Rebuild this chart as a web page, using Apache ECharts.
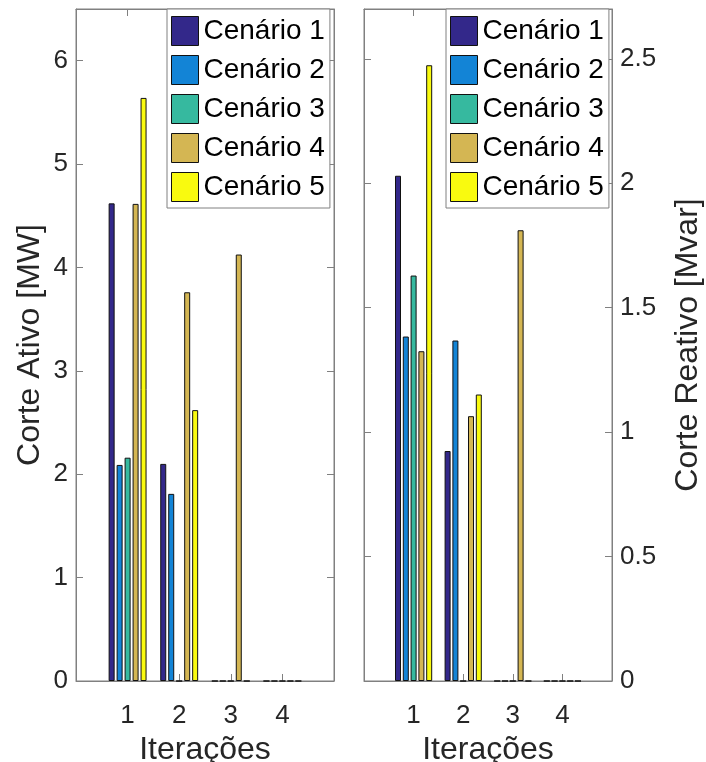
<!DOCTYPE html>
<html>
<head>
<meta charset="utf-8">
<script src="https://cdn.jsdelivr.net/npm/echarts@6/dist/echarts.min.js"></script>
<style>
  html, body { margin: 0; padding: 0; background: #fff; }
  #chart { width: 706px; height: 762px; }
</style>
</head>
<body>
<div id="chart"></div>
<script>
"use strict";

// iterações no eixo x
const ITERACOES = [1, 2, 3, 4];
const CENARIOS = ["Cenário 1", "Cenário 2", "Cenário 3", "Cenário 4", "Cenário 5"];
const CORES = ["#33288a", "#1384d6", "#36b99f", "#d4b653", "#f9fa0f"];

// Corte Ativo [MW], uma lista por cenário (iterações 1..4)
const ATIVO_C1 = [4.62, 2.10, 0, 0];
const ATIVO_C2 = [2.09, 1.81, 0, 0];
const ATIVO_C3 = [2.16, 0, 0, 0];
const ATIVO_C4 = [4.615, 3.76, 4.125, 0];
const ATIVO_C5 = [5.64, 2.62, 0, 0];

// Corte Reativo [Mvar]
const REATIVO_C1 = [2.03, 0.924, 0, 0];
const REATIVO_C2 = [1.384, 1.368, 0, 0];
const REATIVO_C3 = [1.629, 0, 0, 0];
const REATIVO_C4 = [1.325, 1.064, 1.811, 0];
const REATIVO_C5 = [2.474, 1.151, 0, 0];

const ATIVO = [ATIVO_C1, ATIVO_C2, ATIVO_C3, ATIVO_C4, ATIVO_C5];
const REATIVO = [REATIVO_C1, REATIVO_C2, REATIVO_C3, REATIVO_C4, REATIVO_C5];

const FONT = "Liberation Sans, Arial, Helvetica, sans-serif";
const AXC = "#808080";
const TXT = "#262626";

const xBase = (grid, pos, show) => ({
  type: "value", gridIndex: grid, position: pos, min: 0, max: 5, interval: 1,
  axisLine: { show: true, onZero: false, lineStyle: { color: AXC, width: 1 } },
  axisTick: { show: true, inside: true, length: 7, lineStyle: { color: AXC } },
  splitLine: { show: false },
  axisLabel: {
    show: show, margin: 22, color: TXT, fontSize: 26, fontFamily: FONT,
    formatter: v => (v >= 1 && v <= 4) ? String(v) : ""
  },
  name: show ? "Iterações" : "", nameLocation: "middle", nameGap: 44,
  nameTextStyle: { fontSize: 32, color: TXT, fontFamily: FONT }
});

const yBase = (grid, pos, max, step, show, name, gap) => ({
  type: "value", gridIndex: grid, position: pos, min: 0, max: max, interval: step,
  axisLine: { show: true, onZero: false, lineStyle: { color: AXC, width: 1 } },
  axisTick: { show: true, inside: true, length: 7, lineStyle: { color: AXC } },
  splitLine: { show: false },
  axisLabel: {
    show: show, margin: 8, color: TXT, fontSize: 26, fontFamily: FONT,
    formatter: v => Math.abs(v / step - Math.round(v / step)) < 1e-6 ? String(+v.toFixed(1)) : ""
  },
  name: name, nameLocation: "middle", nameGap: gap, nameRotate: 90,
  nameTextStyle: { fontSize: 32, color: TXT, fontFamily: FONT }
});

const series = [];
CENARIOS.forEach((nome, k) => {
  series.push({
    name: nome, type: "bar", xAxisIndex: 0, yAxisIndex: 0,
    data: ITERACOES.map((it, i) => [it, ATIVO[k][i]]),
    barWidth: 6, barGap: "33%",
    itemStyle: { color: CORES[k], borderColor: "#111", borderWidth: 1 },
    silent: true
  });
});
CENARIOS.forEach((nome, k) => {
  series.push({
    name: nome, type: "bar", xAxisIndex: 2, yAxisIndex: 2,
    data: ITERACOES.map((it, i) => [it, REATIVO[k][i]]),
    barWidth: 6, barGap: "30%",
    itemStyle: { color: CORES[k], borderColor: "#111", borderWidth: 1 },
    silent: true
  });
});

const legendBase = left => ({
  orient: "vertical", left: left, top: 9,
  padding: [7, 5, 6, 4],
  itemWidth: 27, itemHeight: 29, itemGap: 9,
  backgroundColor: "#fff", borderColor: AXC, borderWidth: 1,
  textStyle: { fontSize: 28, color: "#000", fontFamily: FONT },
  itemStyle: { borderColor: "#111", borderWidth: 1 },
  icon: "rect", selectedMode: false,
  data: CENARIOS
});

const chart = echarts.init(document.getElementById("chart"), null, { renderer: "canvas" });
chart.setOption({
  animation: false,
  backgroundColor: "#fff",
  textStyle: { fontFamily: FONT },
  grid: [
    { left: 76, top: 9, width: 258, height: 672, show: true, borderColor: AXC, borderWidth: 1,
      containLabel: false, outerBoundsMode: "none" },
    { left: 364, top: 9, width: 248, height: 672, show: true, borderColor: AXC, borderWidth: 1,
      containLabel: false, outerBoundsMode: "none" }
  ],
  xAxis: [
    xBase(0, "bottom", true),
    xBase(0, "top", false),
    xBase(1, "bottom", true),
    xBase(1, "top", false)
  ],
  yAxis: [
    yBase(0, "left", 6.5, 1, true, "Corte Ativo [MW]", 30),
    yBase(0, "right", 6.5, 1, false, "", 0),
    yBase(1, "right", 2.7, 0.5, true, "Corte Reativo [Mvar]", 60),
    yBase(1, "left", 2.7, 0.5, false, "", 0)
  ],
  legend: [legendBase(167), legendBase(446)],
  series: series
});
</script>
</body>
</html>
